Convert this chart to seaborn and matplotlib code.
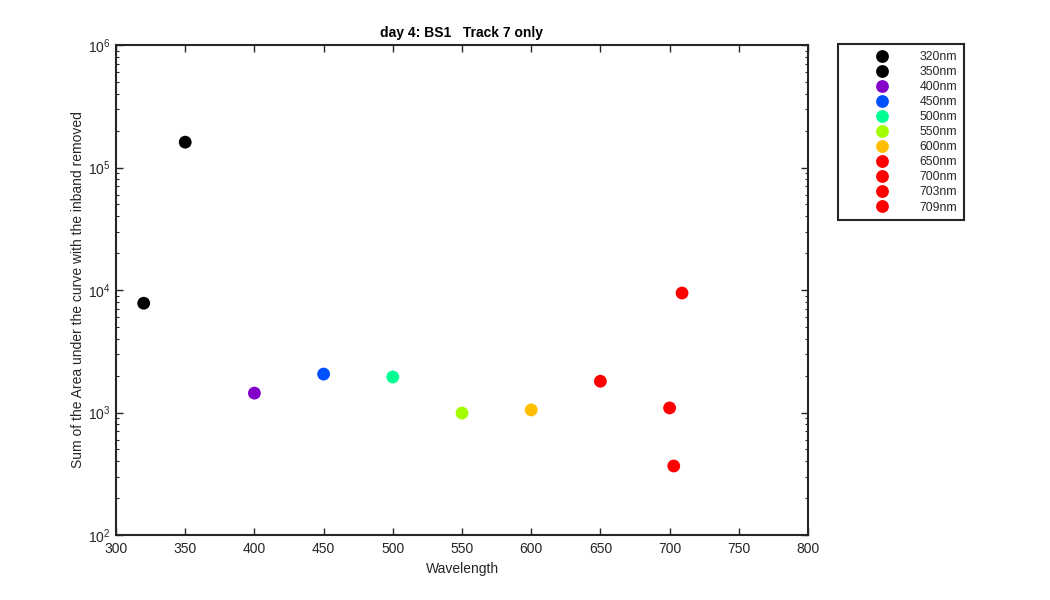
import numpy as np
import matplotlib
matplotlib.use("Agg")
import matplotlib.pyplot as plt
import pandas as pd
import seaborn as sns

wavelength = [320, 350, 400, 450, 500, 550, 600, 650, 700, 703, 709]
area = [7800, 161000, 1440, 2060, 1950, 990, 1050, 1800, 1090, 366, 9450]
labels = ["320nm", "350nm", "400nm", "450nm", "500nm", "550nm",
          "600nm", "650nm", "700nm", "703nm", "709nm"]
colors = ["#000000", "#000000", "#8200C8", "#0050FF", "#00FF92", "#A3FF00",
          "#FFBE00", "#FF0000", "#FF0000", "#FF0000", "#FF0000"]

df = pd.DataFrame({"Wavelength": wavelength, "Area": area, "label": labels})

sns.set_style("ticks")
plt.rcParams["font.family"] = ["Liberation Sans", "DejaVu Sans"]
plt.rcParams["xtick.direction"] = "in"
plt.rcParams["ytick.direction"] = "in"

fig = plt.figure(figsize=(10.5, 6), dpi=100)
ax = fig.add_axes([0.1105, 0.1083, 0.659, 0.8167])

sns.scatterplot(data=df, x="Wavelength", y="Area", hue="label",
                palette=dict(zip(labels, colors)), s=85, linewidth=0, ax=ax)

ax.set_yscale("log")
ax.set_xlim(300, 800)
ax.set_ylim(1e2, 1e6)
ax.set_xticks(np.arange(300, 801, 50))
ax.tick_params(which="both", top=True, right=True, labelsize=10, colors="#262626")
ax.tick_params(axis="x", pad=5)
ax.tick_params(axis="y", pad=4)
ax.tick_params(which="major", length=5, width=1)
ax.tick_params(which="minor", length=2.5, width=0.8)
for sp in ax.spines.values():
    sp.set_linewidth(1.5)
    sp.set_color("#262626")

ax.set_xlabel("Wavelength", fontsize=10, color="#262626", labelpad=4)
ax.set_ylabel("Sum of the Area under the curve with the inband removed", fontsize=10,
              color="#262626", labelpad=2)
ax.set_title("day 4: BS1   Track 7 only", fontsize=10, fontweight="bold", color="#000000")

leg = ax.legend(loc="upper left", bbox_to_anchor=(1.044, 1.0015), frameon=True,
                fontsize=8.8, handletextpad=0.0, borderpad=0.55, labelspacing=0.25,
                markerscale=1.0, borderaxespad=0, handlelength=6.1)
leg.get_frame().set_edgecolor("#262626")
leg.get_frame().set_linewidth(1.5)
leg.get_frame().set_boxstyle("square", pad=0)
leg.get_frame().set_alpha(1)

fig.savefig("out.png", dpi=100)
